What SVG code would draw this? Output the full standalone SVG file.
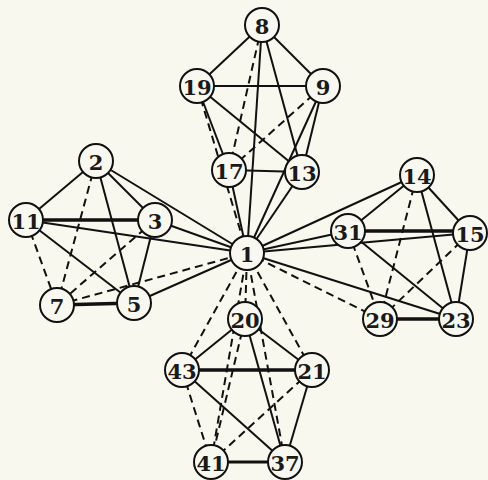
<svg xmlns="http://www.w3.org/2000/svg" width="488" height="480" viewBox="0 0 488 480">
<style>
.e{stroke:#111;stroke-width:2;fill:none}
.d{stroke:#111;stroke-width:2;fill:none;stroke-dasharray:8 5}
.t{stroke:#111;stroke-width:3.6;fill:none}
.n circle{fill:#f8f8f1;stroke:#111;stroke-width:2}
.n text{font-family:"DejaVu Serif","Liberation Serif",serif;font-weight:bold;font-size:21px;fill:#1a1a1a;text-anchor:middle;dominant-baseline:central}
</style>
<rect width="488" height="480" fill="#f9f8ef"/>
<g id="connectors">
<!-- top cluster -->
<line class="e" x1="262" y1="25" x2="197" y2="86"/>
<line class="e" x1="262" y1="25" x2="323" y2="86"/>
<line class="e" x1="197" y1="86" x2="323" y2="86"/>
<line class="d" x1="262" y1="25" x2="229" y2="170"/>
<line class="e" x1="262" y1="25" x2="247" y2="253"/>
<line class="e" x1="262" y1="25" x2="302" y2="172"/>
<line class="e" x1="197" y1="86" x2="229" y2="170"/>
<line class="d" x1="197" y1="86" x2="247" y2="253"/>
<line class="e" x1="197" y1="86" x2="302" y2="172"/>
<line class="d" x1="323" y1="86" x2="229" y2="170"/>
<line class="e" x1="323" y1="86" x2="302" y2="172"/>
<line class="e" x1="323" y1="86" x2="247" y2="253"/>
<line class="e" x1="229" y1="170" x2="302" y2="172"/>
<line class="e" x1="229" y1="170" x2="247" y2="253"/>
<line class="e" x1="302" y1="172" x2="247" y2="253"/>
<!-- left cluster -->
<line class="e" x1="96" y1="161" x2="26" y2="220"/>
<line class="e" x1="96" y1="161" x2="155" y2="220"/>
<line class="e" x1="96" y1="161" x2="247" y2="253"/>
<line class="d" x1="96" y1="161" x2="57" y2="305"/>
<line class="e" x1="96" y1="161" x2="134" y2="303"/>
<line class="t" x1="26" y1="220" x2="155" y2="220"/>
<line class="e" x1="26" y1="220" x2="247" y2="253"/>
<line class="d" x1="26" y1="220" x2="57" y2="305"/>
<line class="e" x1="26" y1="220" x2="134" y2="303"/>
<line class="e" x1="155" y1="220" x2="247" y2="253"/>
<line class="d" x1="155" y1="220" x2="57" y2="305"/>
<line class="e" x1="155" y1="220" x2="134" y2="303"/>
<line class="t" x1="57" y1="305" x2="134" y2="303"/>
<line class="d" x1="57" y1="305" x2="247" y2="253"/>
<line class="e" x1="134" y1="303" x2="247" y2="253"/>
<!-- right cluster -->
<line class="e" x1="417" y1="175" x2="247" y2="253"/>
<line class="e" x1="417" y1="175" x2="348" y2="231"/>
<line class="e" x1="417" y1="175" x2="470" y2="233"/>
<line class="d" x1="417" y1="175" x2="380" y2="319"/>
<line class="e" x1="417" y1="175" x2="456" y2="319"/>
<line class="e" x1="348" y1="231" x2="247" y2="253"/>
<line class="t" x1="348" y1="231" x2="470" y2="231"/>
<line class="d" x1="348" y1="231" x2="380" y2="319"/>
<line class="e" x1="348" y1="231" x2="456" y2="319"/>
<line class="e" x1="470" y1="233" x2="247" y2="253"/>
<line class="d" x1="470" y1="233" x2="380" y2="319"/>
<line class="e" x1="470" y1="233" x2="456" y2="319"/>
<line class="t" x1="380" y1="319" x2="456" y2="319"/>
<line class="d" x1="380" y1="319" x2="247" y2="253"/>
<line class="e" x1="456" y1="319" x2="247" y2="253"/>
<!-- bottom cluster -->
<line class="d" x1="245" y1="319" x2="247" y2="253"/>
<line class="e" x1="245" y1="319" x2="182" y2="370"/>
<line class="e" x1="245" y1="319" x2="312" y2="370"/>
<line class="d" x1="245" y1="319" x2="211" y2="462"/>
<line class="e" x1="245" y1="319" x2="285" y2="462"/>
<line class="t" x1="182" y1="370" x2="312" y2="370"/>
<line class="d" x1="182" y1="370" x2="211" y2="462"/>
<line class="e" x1="182" y1="370" x2="285" y2="462"/>
<line class="d" x1="182" y1="370" x2="247" y2="253"/>
<line class="d" x1="312" y1="370" x2="247" y2="253"/>
<line class="d" x1="312" y1="370" x2="211" y2="462"/>
<line class="e" x1="312" y1="370" x2="285" y2="462"/>
<line class="e" x1="211" y1="462" x2="285" y2="462" style="stroke-width:2.8"/>
<line class="d" x1="211" y1="462" x2="247" y2="253"/>
<line class="d" x1="285" y1="462" x2="247" y2="253"/>
</g>
<g id="n8" class="n"><circle cx="262" cy="25" r="17"/><text x="262" y="26">8</text></g>
<g id="n19" class="n"><circle cx="197" cy="86" r="17"/><text x="197" y="87">19</text></g>
<g id="n9" class="n"><circle cx="323" cy="86" r="17"/><text x="323" y="87">9</text></g>
<g id="n17" class="n"><circle cx="229" cy="170" r="17"/><text x="229" y="171">17</text></g>
<g id="n13" class="n"><circle cx="302" cy="172" r="17"/><text x="302" y="173">13</text></g>
<g id="n2" class="n"><circle cx="96" cy="161" r="17"/><text x="96" y="162">2</text></g>
<g id="n11" class="n"><circle cx="26" cy="220" r="17"/><text x="26" y="221">11</text></g>
<g id="n3" class="n"><circle cx="155" cy="220" r="17"/><text x="155" y="221">3</text></g>
<g id="n7" class="n"><circle cx="57" cy="305" r="17"/><text x="57" y="306">7</text></g>
<g id="n5" class="n"><circle cx="134" cy="303" r="17"/><text x="134" y="304">5</text></g>
<g id="n1" class="n"><circle cx="247" cy="253" r="17"/><text x="247" y="254">1</text></g>
<g id="n14" class="n"><circle cx="417" cy="175" r="17"/><text x="417" y="176">14</text></g>
<g id="n31" class="n"><circle cx="348" cy="231" r="17"/><text x="348" y="232">31</text></g>
<g id="n15" class="n"><circle cx="470" cy="233" r="17"/><text x="470" y="234">15</text></g>
<g id="n29" class="n"><circle cx="380" cy="319" r="17"/><text x="380" y="320">29</text></g>
<g id="n23" class="n"><circle cx="456" cy="319" r="17"/><text x="456" y="320">23</text></g>
<g id="n20" class="n"><circle cx="245" cy="319" r="17"/><text x="245" y="320">20</text></g>
<g id="n43" class="n"><circle cx="182" cy="370" r="17"/><text x="182" y="371">43</text></g>
<g id="n21" class="n"><circle cx="312" cy="370" r="17"/><text x="312" y="371">21</text></g>
<g id="n41" class="n"><circle cx="211" cy="462" r="17"/><text x="211" y="463">41</text></g>
<g id="n37" class="n"><circle cx="285" cy="462" r="17"/><text x="285" y="463">37</text></g>
</svg>
